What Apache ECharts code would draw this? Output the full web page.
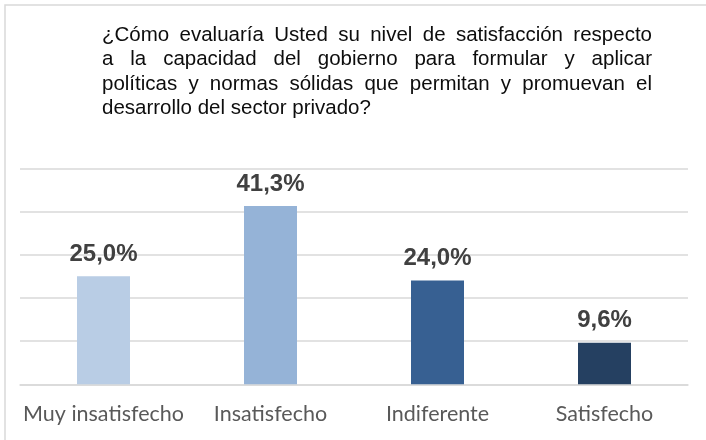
<!DOCTYPE html>
<html>
<head>
<meta charset="utf-8">
<script src="https://cdn.jsdelivr.net/npm/echarts@6/dist/echarts.min.js"></script>
<style>
html,body{margin:0;padding:0;background:#fff;}
#chart{width:706px;height:440px;}
</style>
</head>
<body>
<div id="chart"></div>
<script>
const categories = ['Muy insatisfecho', 'Insatisfecho', 'Indiferente', 'Satisfecho'];
const values = [25.0, 41.3, 24.0, 9.6];
const barColors = ['#B9CDE5', '#95B3D7', '#376092', '#254061'];
const titleLines = [
  '¿Cómo evaluaría Usted su nivel de satisfacción respecto',
  'a la capacidad del gobierno para formular y aplicar',
  'políticas y normas sólidas que permitan y promuevan el',
  'desarrollo del sector privado?'
];

const chart = echarts.init(document.getElementById('chart'), null, {renderer: 'canvas'});

// Justified title, built word by word
const titleFamily = '"Liberation Sans"';
const titleSize = 20.5;
const titleLeft = 102, titleRight = 652, firstBaseline = 42.3, lineStep = 24.4;
const ctx = document.createElement('canvas').getContext('2d');
ctx.font = titleSize + 'px ' + titleFamily;
const titleGraphics = [];
titleLines.forEach(function (line, li) {
  const words = line.split(' ');
  const widths = words.map(function (w) { return ctx.measureText(w).width; });
  const total = widths.reduce(function (a, b) { return a + b; }, 0);
  const isLast = li === titleLines.length - 1;
  const gap = isLast ? ctx.measureText(' ').width : (titleRight - titleLeft - total) / (words.length - 1);
  let x = titleLeft;
  const y = firstBaseline + li * lineStep - 7.1;
  words.forEach(function (w, wi) {
    titleGraphics.push({
      type: 'text', x: x, y: y, silent: true,
      style: {text: w, fontSize: titleSize, fontFamily: titleFamily, fill: '#0d0d0d', align: 'left', verticalAlign: 'middle'}
    });
    x += widths[wi] + gap;
  });
});

const option = {
  animation: false,
  backgroundColor: '#ffffff',
  graphic: [{
    type: 'rect', shape: {x: 5, y: 5, width: 760, height: 480}, silent: true, z: -10,
    style: {fill: 'none', stroke: '#d9d9d9', lineWidth: 1.5}
  }].concat(titleGraphics),
  grid: {left: 20, right: 18, top: 168.3, bottom: 55.7, containLabel: false},
  xAxis: {
    type: 'category',
    data: categories,
    axisTick: {show: false},
    axisLine: {show: true, lineStyle: {color: '#d9d9d9', width: 1.5}},
    axisLabel: {color: '#595959', fontSize: 21.5, fontFamily: 'Lato, "Open Sans", sans-serif', margin: 19, interval: 0}
  },
  yAxis: {
    type: 'value', min: 0, max: 50, interval: 10,
    axisLabel: {show: false}, axisLine: {show: false}, axisTick: {show: false},
    splitLine: {show: true, lineStyle: {color: '#d9d9d9', width: 1.5}}
  },
  series: [{
    type: 'bar',
    data: values.map(function (v, i) { return {value: v, itemStyle: {color: barColors[i]}}; }),
    barWidth: 53,
    label: {
      show: true, position: 'top', distance: 10,
      color: '#404040', fontSize: 24, fontWeight: 'bold', lineHeight: 24,
      fontFamily: '"Liberation Sans", Arial, sans-serif',
      formatter: function (p) { return p.value.toFixed(1).replace('.', ',') + '%'; }
    }
  }]
};
chart.setOption(option);
</script>
</body>
</html>
